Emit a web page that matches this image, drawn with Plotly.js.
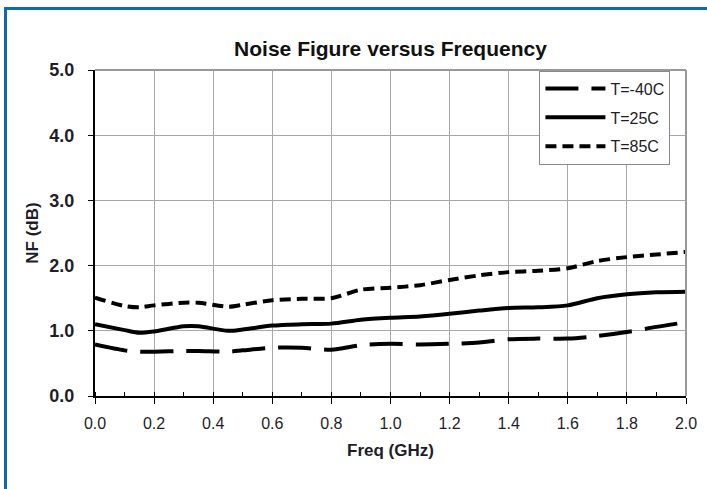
<!DOCTYPE html>
<html>
<head>
<meta charset="utf-8">
<script src="https://cdn.plot.ly/plotly-3.0.1.min.js"></script>
<style>
  html, body { margin: 0; padding: 0; background: #fff; }
  #wrap { position: relative; width: 707px; height: 489px; overflow: hidden; }
  #chart { position: absolute; left: 0; top: 0; width: 707px; height: 489px; }
  #frame { position: absolute; left: 4px; top: 7px; width: 720px; height: 500px;
           border-left: 3px solid #1469a8; border-top: 3px solid #1469a8; pointer-events: none; }
</style>
</head>
<body>
<div id="wrap"><div id="chart"></div><div id="frame"></div></div>
<script>
const freq = [0.0, 0.1, 0.15, 0.2, 0.3, 0.35, 0.45, 0.5, 0.6, 0.7, 0.8, 0.9, 1.0, 1.1, 1.2, 1.3, 1.4, 1.5, 1.6, 1.7, 1.8, 1.9, 2.0];
const nfM40 = [0.79, 0.70, 0.68, 0.68, 0.69, 0.69, 0.68, 0.70, 0.74, 0.74, 0.71, 0.78, 0.80, 0.79, 0.80, 0.82, 0.87, 0.88, 0.88, 0.92, 0.98, 1.06, 1.13];
const nf25 = [1.10, 1.01, 0.97, 0.99, 1.07, 1.07, 1.00, 1.02, 1.08, 1.10, 1.11, 1.17, 1.20, 1.22, 1.26, 1.31, 1.35, 1.36, 1.39, 1.50, 1.56, 1.59, 1.60];
const nf85 = [1.51, 1.38, 1.36, 1.39, 1.43, 1.43, 1.37, 1.40, 1.47, 1.49, 1.50, 1.63, 1.66, 1.70, 1.78, 1.85, 1.90, 1.92, 1.96, 2.07, 2.13, 2.17, 2.21];
const seriesNames = ['T=-40C', 'T=25C', 'T=85C'];
const xTicks = [0, 0.2, 0.4, 0.6, 0.8, 1.0, 1.2, 1.4, 1.6, 1.8, 2.0];
const yTicks = [0, 1, 2, 3, 4, 5];

const traces = [
  { x: freq, y: nfM40, name: seriesNames[0], legendgroup: 'a', mode: 'lines',
    line: { color: '#000', width: 4, dash: '33px,13px', shape: 'spline', smoothing: 0.8 } },
  { x: freq, y: nf25, name: seriesNames[1], legendgroup: 'b', mode: 'lines',
    line: { color: '#000', width: 4, shape: 'spline', smoothing: 0.8 } },
  { x: freq, y: nf85, name: seriesNames[2], legendgroup: 'c', mode: 'lines',
    line: { color: '#000', width: 4, dash: '11px,6px', shape: 'spline', smoothing: 0.8 } }
];

const layout = {
  width: 707, height: 489,
  margin: { l: 95, r: 21, t: 70, b: 93 },
  paper_bgcolor: '#fff', plot_bgcolor: '#fff',
  font: { family: 'Liberation Sans, Arial, sans-serif', color: '#1e1e28' },
  title: { text: '<b>Noise Figure versus Frequency</b>', font: { size: 21, color: '#111' },
           xref: 'paper', x: 0.5, xanchor: 'center', yref: 'container', y: 0.90, yanchor: 'middle' },
  showlegend: true,
  legend: { x: 0.752, xanchor: 'left', y: 0.998, yanchor: 'top', bgcolor: '#fff',
            bordercolor: '#888', borderwidth: 1, font: { size: 16, color: '#1e1e28' },
            traceorder: 'grouped', tracegroupgap: 5, itemwidth: 60 },
  xaxis: {
    range: [0, 2], tickvals: xTicks, tickformat: '.1f', ticks: 'outside', ticklen: 6, tickwidth: 1,
    tickcolor: '#000', showline: true, linecolor: '#000', linewidth: 2, mirror: false,
    showgrid: true, gridcolor: '#a8a8a8', gridwidth: 1, zeroline: false,
    tickfont: { size: 16 }, ticklabelstandoff: 6,
    minor: { dtick: 0.1, ticks: 'inside', ticklen: 4, tickcolor: '#000', showgrid: false },
    title: { text: '<b>Freq (GHz)</b>', font: { size: 17, color: '#1e1e28' }, standoff: 13 }
  },
  yaxis: {
    range: [0, 5], tickvals: yTicks, tickformat: '.1f', ticks: 'outside', ticklen: 5, tickwidth: 1,
    tickcolor: '#000', showline: true, linecolor: '#000', linewidth: 2,
    showgrid: true, gridcolor: '#a8a8a8', gridwidth: 1, zeroline: false,
    tickfont: { size: 18, weight: 'bold' }, ticklabelstandoff: 10,
    title: { text: '<b>NF (dB)</b>', font: { size: 17, color: '#1e1e28' }, standoff: 6 }
  },
  shapes: [
    { type: 'line', xref: 'paper', yref: 'paper', x0: 0, x1: 1, y0: 1, y1: 1, line: { color: '#999', width: 2 } },
    { type: 'line', xref: 'paper', yref: 'paper', x0: 1, x1: 1, y0: 0, y1: 1, line: { color: '#999', width: 2 } }
  ]
};

Plotly.newPlot('chart', traces, layout, { displayModeBar: false, staticPlot: true });
</script>
</body>
</html>
